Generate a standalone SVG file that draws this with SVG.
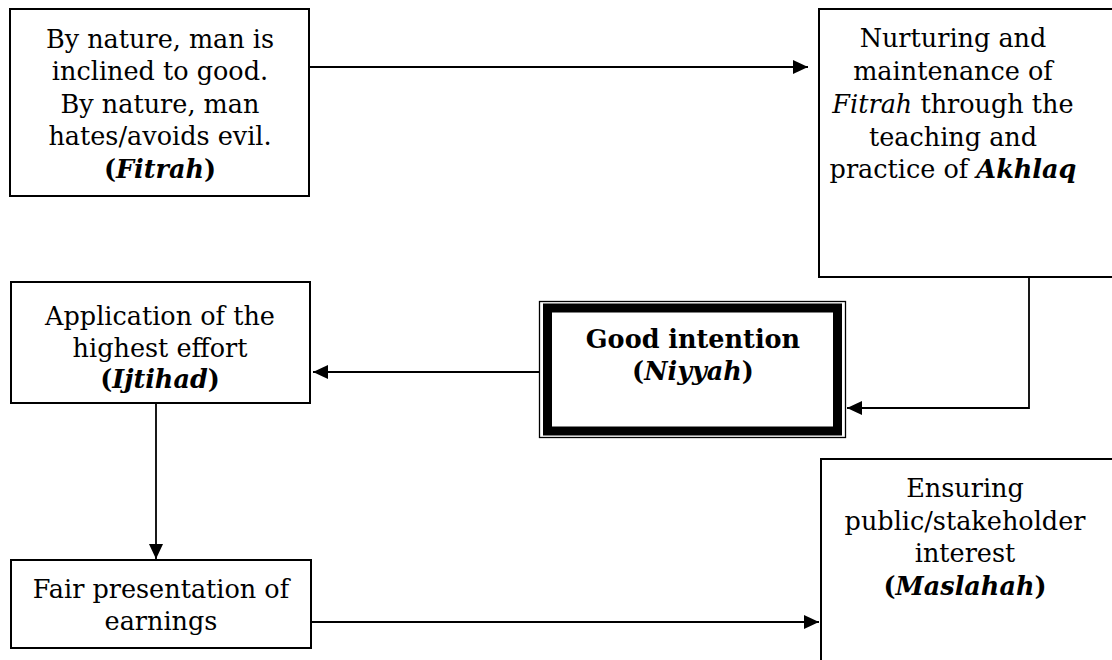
<svg xmlns="http://www.w3.org/2000/svg" width="1112" height="660" viewBox="0 0 1112 660">
<style>
.box{fill:#fff;stroke:#000;stroke-width:2}
.t{font-family:"DejaVu Serif","Liberation Serif",serif;font-size:25.5px;fill:#000;text-anchor:middle}
.b{font-weight:bold}
.i{font-style:italic}
.c{fill:none;stroke:#000;stroke-width:1.8}
</style>
<defs>
<marker id="ah" markerUnits="userSpaceOnUse" markerWidth="15" markerHeight="14" refX="15" refY="7" orient="auto">
<path d="M0,0 L15,7 L0,14 Z" fill="#000"/>
</marker>
</defs>
<rect width="1112" height="660" fill="#fff"/>
<g id="connectors">
<path class="c" d="M310,67 L808,67" marker-end="url(#ah)"/>
<path class="c" d="M1029,277 L1029,408 L847,408" marker-end="url(#ah)"/>
<path class="c" d="M539,372 L313,372" marker-end="url(#ah)"/>
<path class="c" d="M156,403 L156,559" marker-end="url(#ah)"/>
<path class="c" d="M311,622 L819,622" marker-end="url(#ah)"/>
</g>
<g id="fitrah">
<rect class="box" x="10" y="9" width="299" height="187"/>
<text class="t" x="160" y="48">By nature, man is</text>
<text class="t" x="160" y="80">inclined to good.</text>
<text class="t" x="160" y="113">By nature, man</text>
<text class="t" x="160" y="145">hates/avoids evil.</text>
<text class="t b" x="160" y="178">(<tspan class="i">Fitrah</tspan>)</text>
</g>
<g id="akhlaq">
<rect class="box" x="819" y="9" width="300" height="268"/>
<text class="t" x="953" y="47">Nurturing and</text>
<text class="t" x="953" y="80">maintenance of</text>
<text class="t" x="953" y="113"><tspan class="i">Fitrah</tspan> through the</text>
<text class="t" x="953" y="146">teaching and</text>
<text class="t" x="953" y="178">practice of <tspan class="b i">Akhlaq</tspan></text>
</g>
<g id="niyyah">
<rect x="539.5" y="301.5" width="306" height="136" fill="#fff" stroke="#000" stroke-width="1.3"/>
<rect x="547.5" y="308" width="290" height="123" fill="none" stroke="#000" stroke-width="9"/>
<text class="t b" x="693" y="348">Good intention</text>
<text class="t b" x="693" y="380">(<tspan class="i">Niyyah</tspan>)</text>
</g>
<g id="ijtihad">
<rect class="box" x="11" y="282" width="299" height="121"/>
<text class="t" x="160" y="325">Application of the</text>
<text class="t" x="160" y="357">highest effort</text>
<text class="t b" x="160" y="388">(<tspan class="i">Ijtihad</tspan>)</text>
</g>
<g id="fair">
<rect class="box" x="11" y="560" width="300" height="88"/>
<text class="t" x="161" y="598">Fair presentation of</text>
<text class="t" x="161" y="630">earnings</text>
</g>
<g id="maslahah">
<rect class="box" x="821" y="459" width="300" height="220"/>
<text class="t" x="965" y="497">Ensuring</text>
<text class="t" x="965" y="530">public/stakeholder</text>
<text class="t" x="965" y="562">interest</text>
<text class="t b" x="965" y="595">(<tspan class="i">Maslahah</tspan>)</text>
</g>
</svg>
